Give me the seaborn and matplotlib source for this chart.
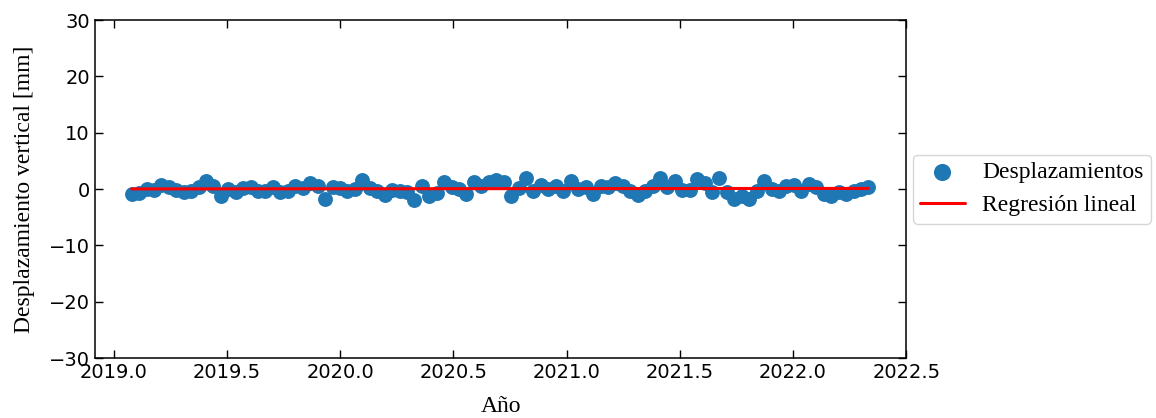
import numpy as np
import matplotlib
matplotlib.use('Agg')
import matplotlib.pyplot as plt
import seaborn as sns

# fechas (año decimal, pasos de 12 dias)
anios = [2019.080, 2019.113, 2019.146, 2019.179, 2019.211, 2019.244, 2019.277, 2019.310, 2019.343, 2019.376,
         2019.409, 2019.441, 2019.474, 2019.507, 2019.540, 2019.573, 2019.606, 2019.639, 2019.671, 2019.704,
         2019.737, 2019.770, 2019.803, 2019.836, 2019.868, 2019.901, 2019.934, 2019.967, 2020.000, 2020.033,
         2020.066, 2020.098, 2020.131, 2020.164, 2020.197, 2020.230, 2020.263, 2020.296, 2020.328, 2020.361,
         2020.394, 2020.427, 2020.460, 2020.493, 2020.526, 2020.558, 2020.591, 2020.624, 2020.657, 2020.690,
         2020.723, 2020.756, 2020.788, 2020.821, 2020.854, 2020.887, 2020.920, 2020.953, 2020.986, 2021.018,
         2021.051, 2021.084, 2021.117, 2021.150, 2021.183, 2021.216, 2021.248, 2021.281, 2021.314, 2021.347,
         2021.380, 2021.413, 2021.445, 2021.478, 2021.511, 2021.544, 2021.577, 2021.610, 2021.643, 2021.675,
         2021.708, 2021.741, 2021.774, 2021.807, 2021.840, 2021.872, 2021.905, 2021.938, 2021.971, 2022.004,
         2022.037, 2022.070, 2022.102, 2022.135, 2022.168, 2022.201, 2022.234, 2022.267, 2022.299, 2022.332]

# desplazamiento vertical [mm]
desp = [-0.8, -0.7, 0.0, -0.2, 0.8, 0.3, -0.2, -0.5, -0.4, 0.3,
        1.5, 0.5, -1.2, 0.0, -0.6, 0.2, 0.4, -0.3, -0.4, 0.3,
        -0.5, -0.3, 0.6, 0.1, 1.0, 0.5, -1.8, 0.4, 0.2, -0.4,
        0.0, 1.6, 0.2, -0.4, -1.0, -0.2, -0.4, -0.5, -1.9, 0.5,
        -1.3, -0.7, 1.3, 0.3, 0.0, -0.9, 1.2, 0.6, 1.2, 1.6,
        1.2, -1.3, 0.2, 2.0, -0.3, 0.8, 0.0, 0.6, -0.3, 1.5,
        0.0, 0.3, -0.8, 0.5, 0.4, 1.0, 0.5, -0.3, -1.0, -0.4,
        0.5, 1.9, 0.3, 1.5, -0.2, -0.2, 1.8, 1.0, -0.5, 1.9,
        -0.6, -1.8, -1.2, -1.8, -0.3, 1.5, 0.0, -0.3, 0.5, 0.7,
        -0.4, 0.9, 0.3, -0.8, -1.3, -0.5, -0.9, -0.3, 0.0, 0.3]

x = np.array(anios)
y = np.array(desp)
pend, inter = np.polyfit(x, y, 1)
y_fit = pend * x + inter

sns.set_style('ticks', {'xtick.direction': 'in', 'ytick.direction': 'in',
                        'axes.edgecolor': 'black', 'text.color': 'black',
                        'axes.labelcolor': 'black', 'xtick.color': 'black',
                        'ytick.color': 'black'})
plt.rcParams['font.family'] = ['Liberation Serif', 'DejaVu Serif']

fig = plt.figure(figsize=(11.56, 4.18), dpi=100)
ax = fig.add_axes([0.082, 0.1435, 0.702, 0.8085])

sns.scatterplot(x=x, y=y, ax=ax, color='#1f77b4', s=115, linewidth=0,
                label='Desplazamientos', zorder=2)
ax.plot(x, y_fit, color='red', lw=2.2, label='Regresión lineal', zorder=3)

ax.set_ylim(-30, 30)
ax.set_xticks([2019.0, 2019.5, 2020.0, 2020.5, 2021.0, 2021.5, 2022.0, 2022.5])
ax.set_yticks([-30, -20, -10, 0, 10, 20, 30])
ax.tick_params(direction='in', top=True, right=True, length=6, width=1, labelsize=14)
for lab in ax.get_xticklabels() + ax.get_yticklabels():
    lab.set_family('DejaVu Sans')
for sp in ax.spines.values():
    sp.set_linewidth(1.1)

ax.set_xlabel('Año', fontsize=17, labelpad=10)
ax.set_ylabel('Desplazamiento vertical [mm]', fontsize=17, labelpad=10)
ax.legend(loc='center left', bbox_to_anchor=(1.008, 0.5), borderaxespad=0,
          fontsize=17, handlelength=1.9, handletextpad=0.75, borderpad=0.3,
          markerscale=1.15)

fig.savefig('out.png', dpi=100)
